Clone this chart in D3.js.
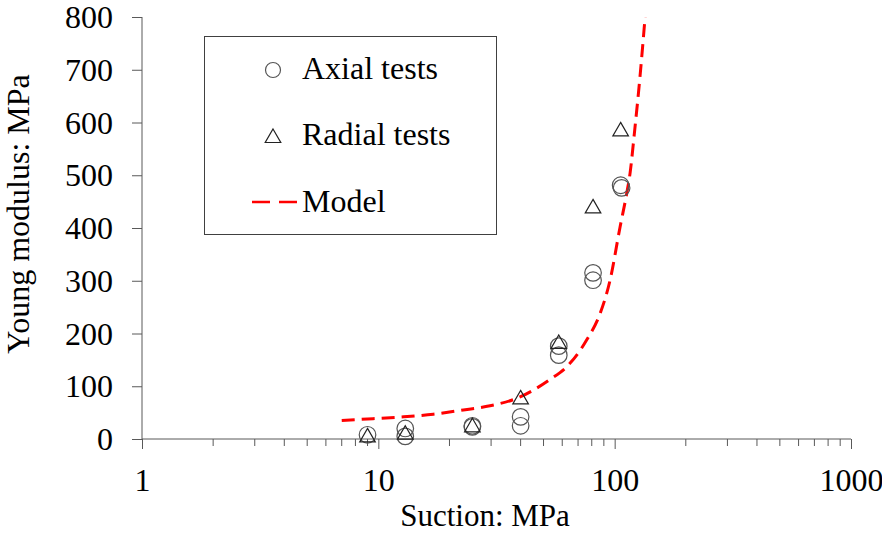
<!DOCTYPE html>
<html>
<head>
<meta charset="utf-8">
<script src="https://cdn.jsdelivr.net/npm/d3@7"></script>
<style>
  body { margin: 0; background: #fff; }
  text { font-family: "Liberation Serif", "Times New Roman", serif; fill: #000; }
</style>
</head>
<body>
<svg id="chart" width="882" height="533"></svg>
<script>
// ---- data ----
const axialSuction  = [9, 13, 13, 25, 25, 40, 40, 58, 58, 81, 81, 106, 107];
const axialModulus  = [8, 20, 5, 25, 23, 42, 25, 176, 159, 315, 301, 481, 476];
const radialSuction = [9, 13, 25, 40, 58, 81, 106];
const radialModulus = [6, 11, 25, 78, 183, 440, 586];
const modelSuction  = [7, 9.5, 12.8, 17.1, 22.9, 29.7, 38.5, 53.3, 62.7, 76.2, 86.8, 95.6, 105.4, 112.5, 116.2, 121.2, 128, 134.5];
const modelModulus  = [35, 38.5, 42, 47, 55, 63, 77, 113, 137, 188, 238, 301, 402, 466, 504, 580, 687, 800];
const yTicks = [0, 100, 200, 300, 400, 500, 600, 700, 800];
const xTicks = [1, 10, 100, 1000];
const legendLabels = ["Axial tests", "Radial tests", "Model"];
const xTitle = "Suction: MPa";
const yTitle = "Young modulus: MPa";

const svg = d3.select("#chart");
const x = d3.scaleLog().domain([1, 1000]).range([142, 851]);
const y = d3.scaleLinear().domain([0, 800]).range([439, 17]);
const axisColor = "#595959";

// model curve
const modelData = modelSuction.map((s, i) => [s, modelModulus[i]]);
svg.append("path")
  .datum(modelData)
  .attr("fill", "none")
  .attr("stroke", "#ff0000")
  .attr("stroke-width", 3)
  .attr("stroke-dasharray", "13,7")
  .attr("d", d3.line().x(d => x(d[0])).y(d => y(d[1])).curve(d3.curveMonotoneX));

// y axis
const yAxis = d3.axisLeft(y).tickValues(yTicks).tickSize(10).tickPadding(19).tickFormat(d3.format("d"));
const gy = svg.append("g").attr("transform", `translate(${x(1)},0)`).call(yAxis);
gy.select(".domain").attr("stroke", axisColor).attr("d", `M0,${y(800)}V${y(0)}`);
gy.selectAll(".tick line").attr("stroke", axisColor);
gy.selectAll(".tick text").attr("font-size", 32).attr("font-family", "Liberation Serif").attr("fill", "#000").attr("dy", "0.33em");

// x axis (major ticks)
const xAxis = d3.axisBottom(x).tickValues(xTicks).tickSize(10).tickPadding(19).tickFormat(d3.format("d"));
const gx = svg.append("g").attr("transform", `translate(0,${y(0)})`).call(xAxis);
gx.select(".domain").attr("stroke", axisColor).attr("d", `M${x(1)},0H${x(1000)}`);
gx.selectAll(".tick line").attr("stroke", axisColor);
gx.selectAll(".tick text").attr("font-size", 32).attr("font-family", "Liberation Serif").attr("fill", "#000").attr("dy", "0.71em");

// minor ticks
const minor = [];
[1, 10, 100].forEach(dec => { for (let k = 2; k <= 9; k++) minor.push(dec * k); });
svg.append("g").selectAll("line").data(minor).join("line")
  .attr("x1", d => x(d)).attr("x2", d => x(d))
  .attr("y1", y(0)).attr("y2", y(0) + 7)
  .attr("stroke", axisColor);

// markers
const tri = d3.symbol().type(d3.symbolTriangle).size(105);
svg.append("g").selectAll("circle").data(axialSuction.map((s, i) => [s, axialModulus[i]])).join("circle")
  .attr("cx", d => x(d[0])).attr("cy", d => y(d[1])).attr("r", 8.3)
  .attr("fill", "none").attr("stroke", "#555").attr("stroke-width", 1.2);
svg.append("g").selectAll("path").data(radialSuction.map((s, i) => [s, radialModulus[i]])).join("path")
  .attr("transform", d => `translate(${x(d[0])},${y(d[1]) + 1.5})`)
  .attr("d", tri).attr("fill", "none").attr("stroke", "#222").attr("stroke-width", 1.2);

// legend
const lg = svg.append("g");
lg.append("rect").attr("x", 204.5).attr("y", 36.5).attr("width", 292).attr("height", 198)
  .attr("fill", "#fff").attr("stroke", "#404040").attr("stroke-width", 1);
lg.append("circle").attr("cx", 273).attr("cy", 70).attr("r", 7.5)
  .attr("fill", "none").attr("stroke", "#555").attr("stroke-width", 1.2);
lg.append("path").attr("transform", "translate(273,138)").attr("d", tri)
  .attr("fill", "none").attr("stroke", "#222").attr("stroke-width", 1.2);
lg.append("line").attr("x1", 252).attr("x2", 297).attr("y1", 202).attr("y2", 202)
  .attr("stroke", "#ff0000").attr("stroke-width", 2.5).attr("stroke-dasharray", "18,9");
const ly = [79, 145, 212];
legendLabels.forEach((t, i) => {
  lg.append("text").attr("x", 302).attr("y", ly[i]).attr("font-size", 32).text(t);
});

// titles
svg.append("text").attr("x", 485).attr("y", 526).attr("text-anchor", "middle").attr("font-size", 31).text(xTitle);
svg.append("text").attr("transform", "translate(29,214) rotate(-90)").attr("text-anchor", "middle").attr("font-size", 32).text(yTitle);
</script>
</body>
</html>
